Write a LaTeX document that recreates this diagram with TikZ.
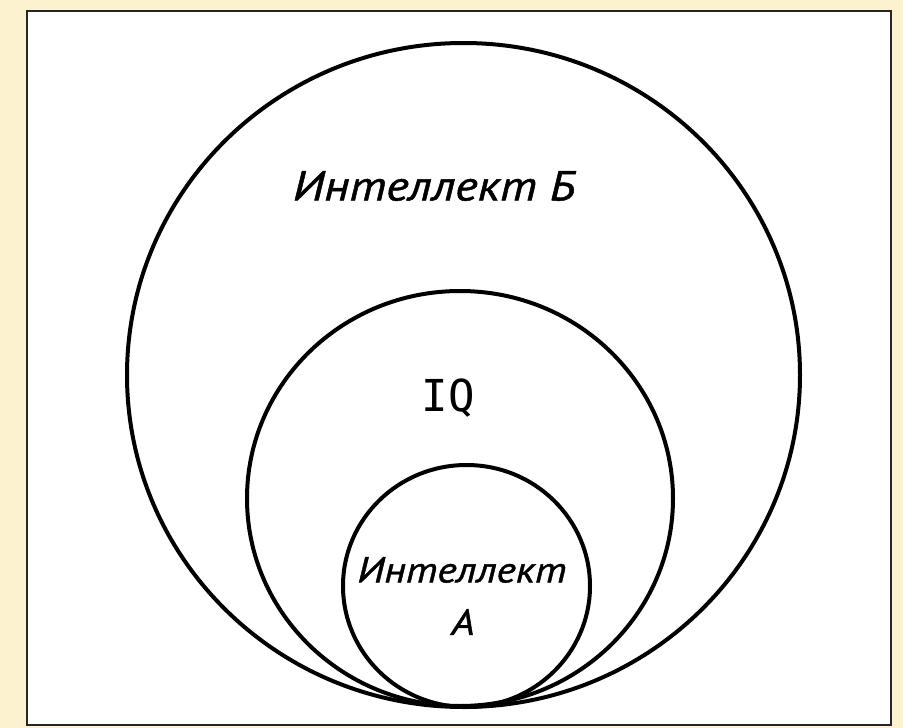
\documentclass[tikz,border=0pt]{standalone}
\usepackage{fontspec}
\setmainfont{PT Sans}
\newfontfamily\labelfont[FakeStretch=1.15,FakeBold=1.2]{PT Sans Italic}
\newfontfamily\iqfont{DejaVu Sans Mono}
\definecolor{cream}{RGB}{253,242,208}
\begin{document}
\begin{tikzpicture}[x=1pt,y=-1pt,
  ring/.style={line width=4pt, draw=black},
  frame/.style={line width=2.8pt, draw=black!85, fill=white},
  lbl/.style={inner sep=0pt}]
\useasboundingbox (0,0) rectangle (903,728);
\fill[cream] (0,0) rectangle (903,728);
\draw[frame] (27,11) rectangle (891,725);
\draw[ring] (463.5,375) ellipse [x radius=336.5pt, y radius=332pt];
\draw[ring] (460,498.5) ellipse [x radius=213pt, y radius=207.5pt];
\draw[ring] (466.5,586) ellipse [x radius=123.5pt, y radius=121pt];
\node[lbl, font=\labelfont\fontsize{42}{48}\selectfont] (b) at (434,186) {Интеллект Б};
\node[lbl, font=\iqfont\fontsize{44}{50}\selectfont] (iq) at (448,398) {IQ};
\node[lbl, font=\labelfont\fontsize{36}{42}\selectfont] (a1) at (462,570) {Интеллект};
\node[lbl, font=\labelfont\fontsize{36}{42}\selectfont] (a2) at (463,622) {А};
\end{tikzpicture}
\end{document}
